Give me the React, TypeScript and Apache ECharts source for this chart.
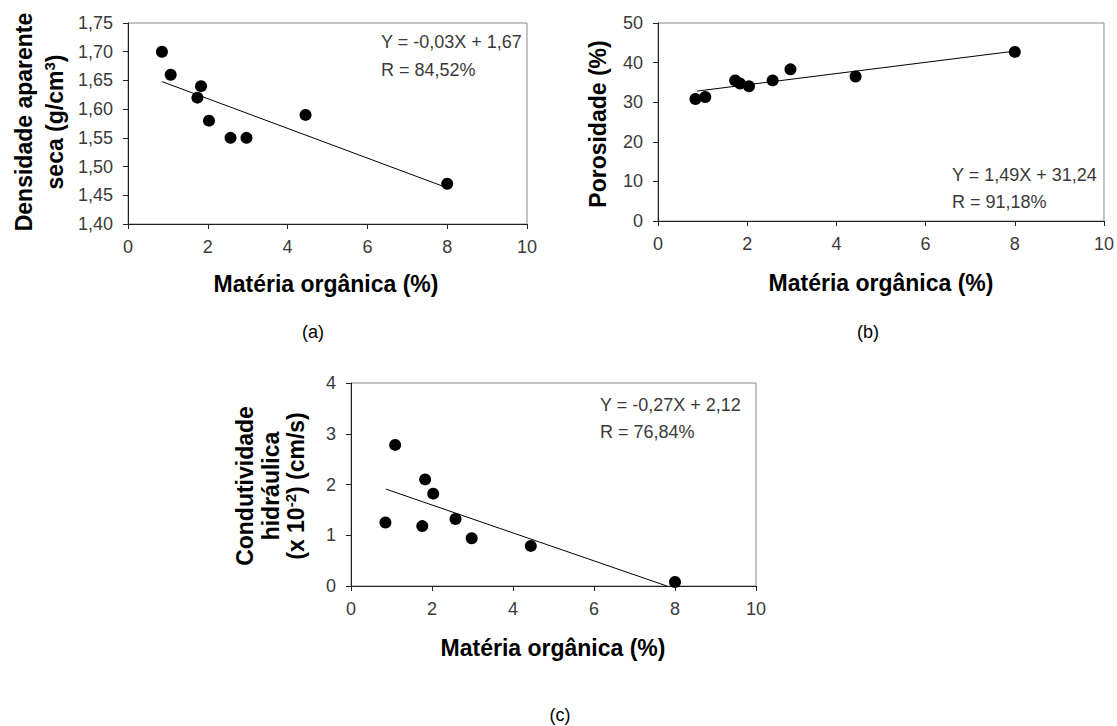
import React, { useEffect, useRef } from "react";
import * as echarts from "echarts";

const FONT = '"Liberation Sans", Arial, Helvetica, sans-serif';

// Panel (a): Densidade aparente seca vs Matéria orgânica
const omA = [0.85, 1.07, 1.74, 1.83, 2.03, 2.57, 2.97, 4.45, 8.0];
const densidade = [1.7, 1.66, 1.62, 1.64, 1.58, 1.55, 1.55, 1.59, 1.47];
const trendAX = [0.85, 8.0];
const trendAY = [1.648, 1.463];

// Panel (b): Porosidade vs Matéria orgânica
const omB = [0.84, 1.06, 1.73, 1.84, 2.04, 2.57, 2.97, 4.43, 8.0];
const porosidade = [30.8, 31.3, 35.5, 34.7, 34.0, 35.5, 38.3, 36.5, 42.7];
const trendBX = [0.87, 8.0];
const trendBY = [32.8, 42.9];

// Panel (c): Condutividade hidráulica vs Matéria orgânica
const omC = [0.85, 1.09, 1.76, 1.83, 2.03, 2.58, 2.98, 4.44, 8.0];
const condutividade = [1.25, 2.78, 1.18, 2.1, 1.82, 1.32, 0.94, 0.79, 0.08];
const trendCX = [0.86, 7.8];
const trendCY = [1.91, 0.0];

const xTitle = "Matéria orgânica (%)";
const yTitleA = ["{b|Densidade aparente}", "{b|seca (g/cm}{s|3}{b|)}"];
const yTitleB = ["{b|Porosidade (%)}"];
const yTitleC = ["{b|Condutividade}", "{b|hidráulica}", "{b|(x 10}{s|-2}{b|) (cm/s)}"];
const eqA = ["Y = -0,03X + 1,67", "R = 84,52%"];
const eqB = ["Y = 1,49X + 31,24", "R = 91,18%"];
const eqC = ["Y = -0,27X + 2,12", "R = 76,84%"];
const captions = ["(a)", "(b)", "(c)"];

const zip = (xs: number[], ys: number[]) => xs.map((x, i) => [x, ys[i]]);

const LABEL_COLOR = "#3a3a3a";

function xAxis(gridIndex: number) {
  return {
    type: "value",
    gridIndex,
    min: 0,
    max: 10,
    interval: 2,
    axisLine: { show: true, onZero: false, lineStyle: { color: "#222", width: 1 } },
    axisTick: { show: true, inside: false, length: 5, lineStyle: { color: "#222" } },
    axisLabel: { fontSize: 18, color: LABEL_COLOR, fontFamily: FONT, margin: 14 },
    splitLine: { show: false },
  };
}

function yAxis(gridIndex: number, min: number, max: number, interval: number, fmt: (v: number) => string) {
  return {
    type: "value",
    gridIndex,
    min,
    max,
    interval,
    axisLine: { show: true, onZero: false, lineStyle: { color: "#222", width: 1 } },
    axisTick: { show: true, inside: false, length: 5, lineStyle: { color: "#222" } },
    axisLabel: { fontSize: 18, color: LABEL_COLOR, fontFamily: FONT, margin: 15, formatter: fmt },
    splitLine: { show: false },
  };
}

function scatter(i: number, xs: number[], ys: number[]) {
  return {
    type: "scatter",
    xAxisIndex: i,
    yAxisIndex: i,
    data: zip(xs, ys),
    symbol: "circle",
    symbolSize: 12,
    itemStyle: { color: "#000", opacity: 1 },
    z: 3,
  };
}

function trend(i: number, xs: number[], ys: number[]) {
  return {
    type: "line",
    xAxisIndex: i,
    yAxisIndex: i,
    data: zip(xs, ys),
    symbol: "none",
    showSymbol: false,
    lineStyle: { color: "#000", width: 1 },
    z: 2,
  };
}

function eqTexts(x: number, y1: number, y2: number, lines: string[]) {
  return lines.map((t, k) => ({
    type: "text",
    x,
    y: k === 0 ? y1 : y2,
    style: {
      text: t,
      fontSize: 18,
      fontFamily: FONT,
      fill: LABEL_COLOR,
      align: "left",
      verticalAlign: "middle",
    },
  }));
}

function hText(x: number, y: number, text: string, size: number, bold: boolean) {
  return {
    type: "text",
    x,
    y,
    style: {
      text,
      fontSize: size,
      fontWeight: bold ? "bold" : "normal",
      fontFamily: FONT,
      fill: "#000",
      align: "center",
      verticalAlign: "middle",
    },
  };
}

function vTitle(xs: number[], y: number, lines: string[]) {
  return lines.map((text, k) => ({
    type: "text",
    x: xs[k],
    y,
    rotation: Math.PI / 2,
    style: {
      text,
      fontSize: 23,
      fontWeight: "bold",
      fontFamily: FONT,
      fill: "#000",
      align: "center",
      verticalAlign: "middle",
      rich: {
        b: { fontSize: 23, fontWeight: "bold", fontFamily: FONT, fill: "#000", lineHeight: 26 },
        s: { fontSize: 15, fontWeight: "bold", fontFamily: FONT, fill: "#000", verticalAlign: "top", lineHeight: 16 },
      },
    },
  }));
}

export default function App() {
  const ref = useRef<HTMLDivElement>(null);
  useEffect(() => {
    const chart = echarts.init(ref.current!, null, { renderer: "svg" });
    const gridCommon = { show: true, borderColor: "#8a8a8a", borderWidth: 1, backgroundColor: "#fff", containLabel: false };
    const option: any = {
      animation: false,
      backgroundColor: "#fff",
      grid: [
        { ...gridCommon, left: 128, top: 23, width: 399, height: 201 },
        { ...gridCommon, left: 658, top: 23, width: 447, height: 198 },
        { ...gridCommon, left: 351, top: 383, width: 405, height: 203 },
      ],
      xAxis: [xAxis(0), xAxis(1), xAxis(2)],
      yAxis: [
        yAxis(0, 1.4, 1.75, 0.05, (v: number) => v.toFixed(2).replace(".", ",")),
        yAxis(1, 0, 50, 10, (v: number) => String(Math.round(v))),
        yAxis(2, 0, 4, 1, (v: number) => String(Math.round(v))),
      ],
      series: [
        trend(0, trendAX, trendAY),
        scatter(0, omA, densidade),
        trend(1, trendBX, trendBY),
        scatter(1, omB, porosidade),
        trend(2, trendCX, trendCY),
        scatter(2, omC, condutividade),
      ],
      graphic: [
        ...vTitle([24, 55], 122, yTitleA),
        ...vTitle([598], 124, yTitleB),
        ...vTitle([245, 271, 296], 486, yTitleC),
        hText(326, 284, xTitle, 23, true),
        hText(881, 283, xTitle, 23, true),
        hText(553, 648, xTitle, 23, true),
        hText(313, 332, captions[0], 18, false),
        hText(868, 332, captions[1], 18, false),
        hText(560, 715, captions[2], 18, false),
        ...eqTexts(381, 42, 70, eqA),
        ...eqTexts(952, 175, 202, eqB),
        ...eqTexts(600, 405, 432, eqC),
      ],
    };
    chart.setOption(option);
    return () => chart.dispose();
  }, []);
  return (
    <div
      ref={ref}
      style={{ position: "fixed", left: 0, top: 0, width: 1117, height: 726, background: "#fff" }}
    />
  );
}
